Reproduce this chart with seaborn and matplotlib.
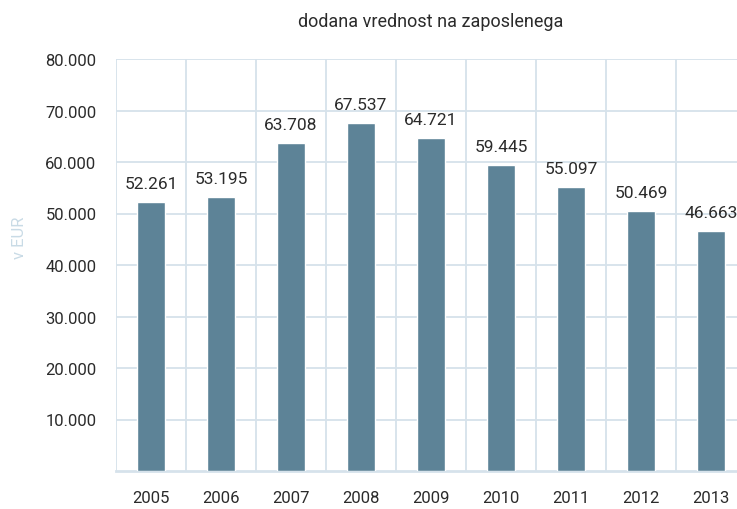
import numpy as np
import pandas as pd
import matplotlib
matplotlib.use("Agg")
import matplotlib.pyplot as plt
import seaborn as sns
from matplotlib.ticker import FuncFormatter, FixedLocator

# Data
years = ["2005", "2006", "2007", "2008", "2009", "2010", "2011", "2012", "2013"]
values = [52261, 53195, 63708, 67537, 64721, 59445, 55097, 50469, 46663]
value_labels = ["52.261", "53.195", "63.708", "67.537", "64.721",
                "59.445", "55.097", "50.469", "46.663"]

df = pd.DataFrame({"year": years, "value": values})

sns.set_style("white")
plt.rcParams["font.family"] = ["Roboto", "DejaVu Sans"]

grid_col = "#d6e2eb"
bar_col = "#5d8397"
text_col = "#2b2b2b"

fig = plt.figure(figsize=(7.37, 5.10), dpi=100)
ax = fig.add_axes([116 / 737, 38 / 510, 630 / 737, 412 / 510])

sns.barplot(data=df, x="year", y="value", color=bar_col, width=0.4,
            saturation=1, ax=ax, zorder=3)

ax.set_xlim(-0.5, len(years) - 0.5)
ax.set_ylim(0, 80000)
ax.set_yticks(np.arange(10000, 80001, 10000))
ax.yaxis.set_major_formatter(FuncFormatter(lambda v, p: f"{int(v):,}".replace(",", ".")))

# grid: horizontal at y ticks, vertical at category boundaries
ax.xaxis.set_minor_locator(FixedLocator(np.arange(-0.5, len(years), 1)))
ax.grid(axis="y", which="major", color=grid_col, linewidth=1.3, zorder=0)
ax.grid(axis="x", which="minor", color=grid_col, linewidth=1.3, zorder=0)
ax.set_axisbelow(True)

for s in ["top", "right", "left"]:
    ax.spines[s].set_visible(False)
ax.spines["bottom"].set_color(grid_col)
ax.spines["bottom"].set_linewidth(2)

ax.tick_params(axis="both", which="both", length=0, labelsize=12, colors=text_col)
ax.tick_params(axis="x", pad=14)
ax.tick_params(axis="y", pad=14)
ax.set_xlabel("")
ax.set_ylabel("")

for i, (v, lab) in enumerate(zip(values, value_labels)):
    ax.annotate(lab, (i, v), xytext=(0, 8), textcoords="offset points",
                ha="center", va="bottom", fontsize=12.5, color=text_col)

fig.text(431 / 737, 1 - 22 / 510, "dodana vrednost na zaposlenega",
         ha="center", va="center", fontsize=13, color=text_col)
fig.text(20 / 737, 1 - 238 / 510, "v EUR", rotation=90, ha="center",
         va="center", fontsize=12, color="#c9dbe6")

fig.savefig("out.png", dpi=100)
